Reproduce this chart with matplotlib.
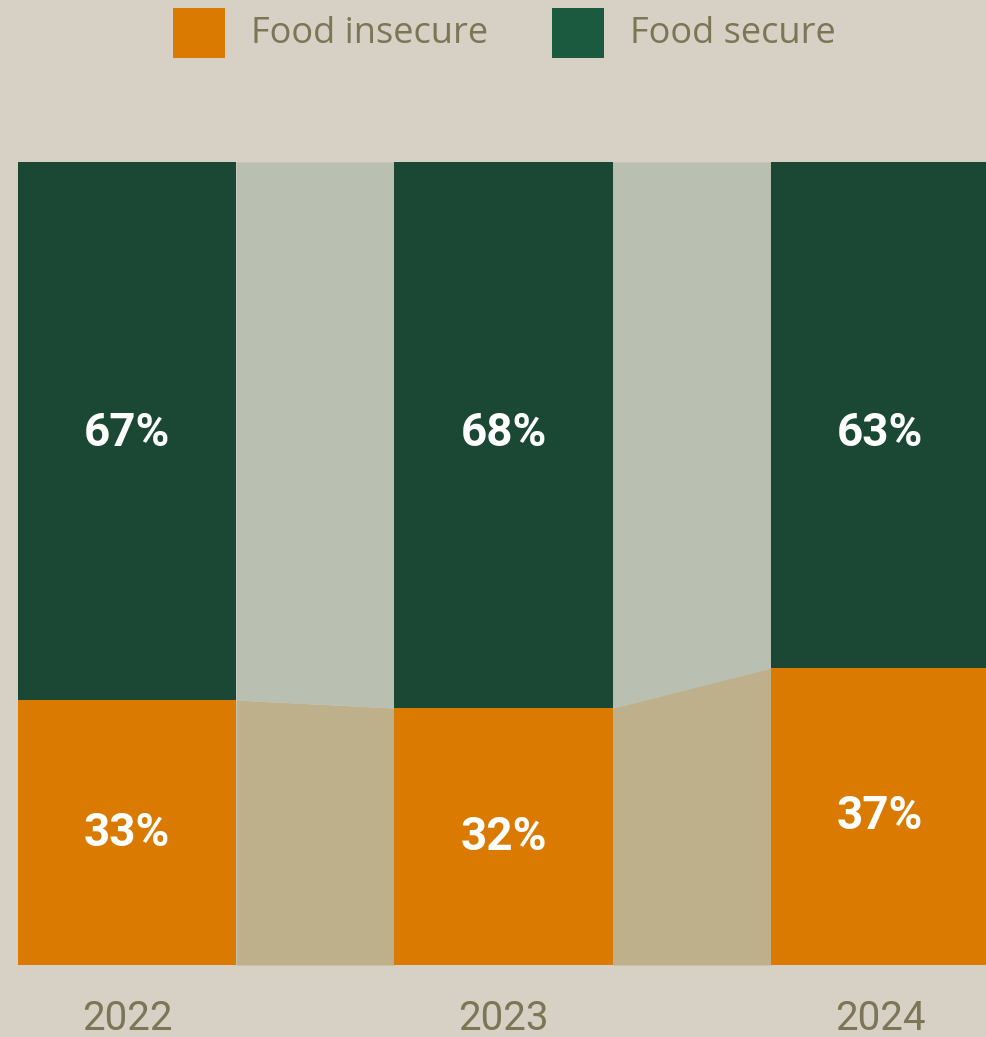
import matplotlib
matplotlib.use("Agg")
import matplotlib.pyplot as plt
from matplotlib.patches import Rectangle
import numpy as np

years = ["2022", "2023", "2024"]
food_insecure = [33, 32, 37]
food_secure = [67, 68, 63]
series_labels = ["Food insecure", "Food secure"]

BG = "#D6D1C4"
GREEN = "#1A4835"
ORANGE = "#DB7A00"
BAND_TOP = "#B9BFB1"
BAND_BOT = "#BFB08C"
TXT = "#7C7556"
LEG_GREEN = "#1C5A40"

W, H = 986, 1037
fig = plt.figure(figsize=(W / 100, H / 100), dpi=100, facecolor=BG)

top_px, bot_px = 162, 965
ax = fig.add_axes([0, (H - bot_px) / H, 1, (bot_px - top_px) / H])
ax.set_facecolor(BG)
for s in ax.spines.values():
    s.set_visible(False)
ax.set_xticks([])
ax.set_yticks([])

step = 376.5
width = 218 / step
x = np.arange(len(years))
ax.set_xlim(-127 / step, (W - 127) / step)
ax.set_ylim(0, 100)

# connecting bands
for i in range(len(years) - 1):
    x0 = x[i] + width / 2
    x1 = x[i + 1] - width / 2
    xs = [x0, x1]
    ax.fill_between(xs, [0, 0], [food_insecure[i], food_insecure[i + 1]],
                    color=BAND_BOT, linewidth=0)
    ax.fill_between(xs, [food_insecure[i], food_insecure[i + 1]], [100, 100],
                    color=BAND_TOP, linewidth=0)

ax.bar(x, food_insecure, width=width, color=ORANGE, linewidth=0)
ax.bar(x, food_secure, width=width, bottom=food_insecure, color=GREEN, linewidth=0)

vfont = dict(family=["Roboto", "DejaVu Sans"], fontweight="bold",
             color="white", fontsize=33, ha="center", va="center")
for i in range(len(years)):
    ax.text(x[i], food_insecure[i] / 2, f"{food_insecure[i]}%", **vfont)
    ax.text(x[i], 66.2, f"{food_secure[i]}%", **vfont)

# year labels
for i, yr in enumerate(years):
    xf = (127 + i * step) / W
    fig.text(xf, 1 - 1030 / H, yr, family=["Roboto", "DejaVu Sans"],
             fontsize=29, color=TXT, ha="center", va="baseline")

# legend
leg = [(173, ORANGE, series_labels[0]), (552, LEG_GREEN, series_labels[1])]
for xp, col, lab in leg:
    fig.add_artist(Rectangle((xp / W, 1 - 58 / H), 52 / W, 50 / H,
                             transform=fig.transFigure, color=col, linewidth=0))
    fig.text((xp + 78) / W, 1 - 43 / H, lab, family=["Open Sans", "DejaVu Sans"],
             fontweight="normal", fontsize=26, color=TXT, ha="left", va="baseline")

fig.savefig("out.png", dpi=100, facecolor=BG)
